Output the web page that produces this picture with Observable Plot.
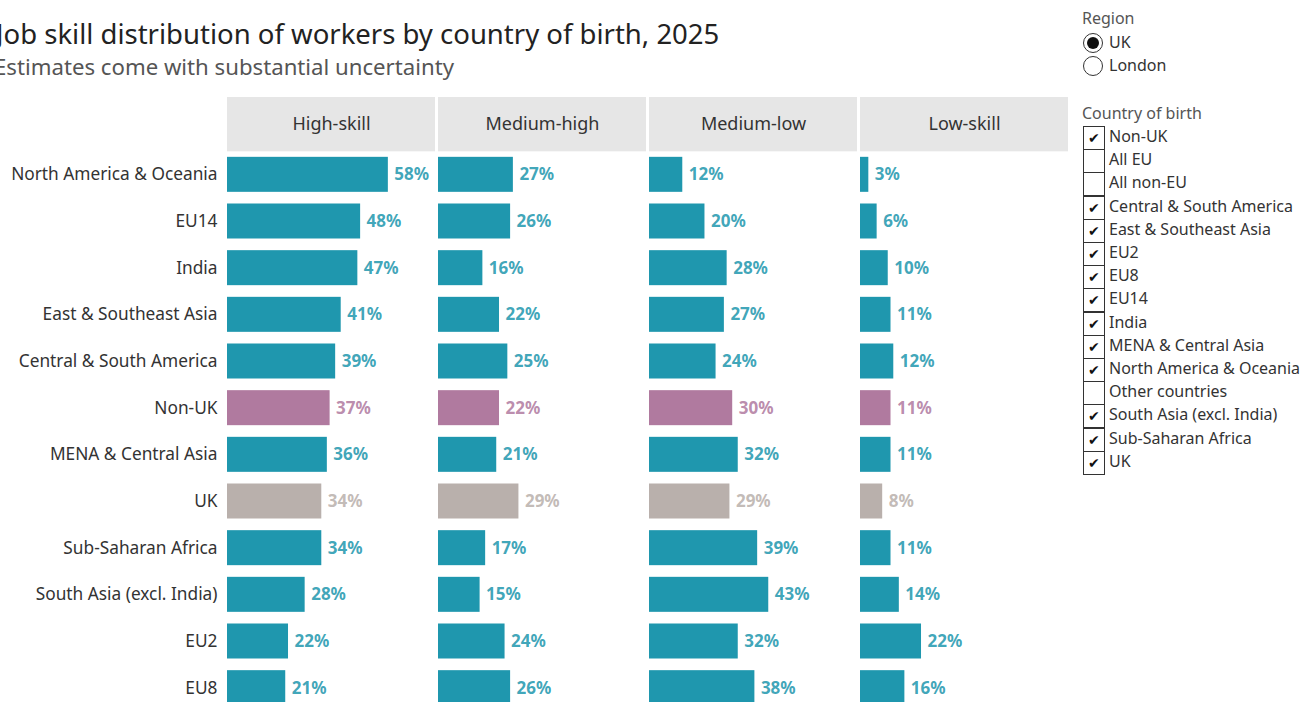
<!DOCTYPE html>
<html>
<head>
<meta charset="utf-8">
<script src="https://cdn.jsdelivr.net/npm/d3@7"></script>
<script src="https://cdn.jsdelivr.net/npm/@observablehq/plot@0.6"></script>
<style>
  html, body { margin: 0; padding: 0; background: #fff; overflow: hidden; width: 1301px; height: 702px; }
  body { position: relative; font-family: "Noto Sans", sans-serif; color: #333; }
  #title { position: absolute; left: -4px; top: 17px; font-size: 27.5px; color: #222; white-space: nowrap; line-height: 1.2; }
  #subtitle { position: absolute; left: -6px; top: 54px; font-size: 22.2px; color: #555; white-space: nowrap; line-height: 1.2; }
  #chart { position: absolute; left: 0; top: 90px; }
  #legend { position: absolute; left: 1082px; top: 0; font-size: 16px; color: #333; }
  .lg-title { position: absolute; left: 0; white-space: nowrap; color: #555; }
  .item { position: absolute; left: 0; white-space: nowrap; height: 23px; line-height: 23px; }
  .radio { position: absolute; left: 1px; top: 0; width: 20px; height: 20px; border: 1.5px solid #333; border-radius: 50%; box-sizing: border-box; background: #fff; }
  .radio.on::after { content: ""; position: absolute; left: 2.5px; top: 2.5px; width: 12px; height: 12px; border-radius: 50%; background: #111; }
  .box { position: absolute; left: 1px; top: 0; width: 22px; height: 24px; border: 1.5px solid #333; box-sizing: border-box; background: #fff; font-size: 14px; line-height: 21px; text-align: center; color: #111; }
  .lbl { position: absolute; left: 27px; top: 0; }
</style>
</head>
<body>
<div id="title">Job skill distribution of workers by country of birth, 2025</div>
<div id="subtitle">Estimates come with substantial uncertainty</div>
<div id="chart"></div>
<div id="legend"></div>
<script>
// ---- Data ----
const skills = ["High-skill", "Medium-high", "Medium-low", "Low-skill"];
const countries = [
  "North America & Oceania", "EU14", "India", "East & Southeast Asia",
  "Central & South America", "Non-UK", "MENA & Central Asia", "UK",
  "Sub-Saharan Africa", "South Asia (excl. India)", "EU2", "EU8"
];
const highSkill  = [58, 48, 47, 41, 39, 37, 36, 34, 34, 28, 22, 21];
const mediumHigh = [27, 26, 16, 22, 25, 22, 21, 29, 17, 15, 24, 26];
const mediumLow  = [12, 20, 28, 27, 24, 30, 32, 29, 39, 43, 32, 38];
const lowSkill   = [ 3,  6, 10, 11, 12, 11, 11,  8, 11, 14, 22, 16];
const seriesBySkill = [highSkill, mediumHigh, mediumLow, lowSkill];

const regionOptions = ["UK", "London"];
const regionSelected = "UK";
const countryOptions = [
  "Non-UK", "All EU", "All non-EU", "Central & South America", "East & Southeast Asia",
  "EU2", "EU8", "EU14", "India", "MENA & Central Asia", "North America & Oceania",
  "Other countries", "South Asia (excl. India)", "Sub-Saharan Africa", "UK"
];
const countryChecked = [true, false, false, true, true, true, true, true, true, true, true, false, true, true, true];

// ---- Table ----
const groupOf = c => c === "Non-UK" ? "Non-UK" : c === "UK" ? "UK" : "Country";
const table = countries.flatMap((c, i) =>
  skills.map((s, j) => ({country: c, skill: s, value: seriesBySkill[j][i], group: groupOf(c)}))
);

const marginTop = 61;
const step = 46.64;
const frameH = step * countries.length;
const height = Math.round(marginTop + frameH);

const chart = Plot.plot({
  width: 1075,
  height,
  marginTop,
  marginBottom: 0,
  marginLeft: 227,
  marginRight: 7,
  style: {fontFamily: "Noto Sans, sans-serif", fontSize: "17.3px", color: "#333", background: "transparent"},
  fx: {domain: skills, axis: null, paddingInner: 3 / 211, paddingOuter: 0, round: false},
  x: {domain: [0, 75], axis: null},
  y: {domain: countries, label: null, tickSize: 0, tickPadding: 10, paddingInner: 0.25, paddingOuter: 0.125, round: false},
  color: {domain: ["Country", "Non-UK", "UK"], range: ["#1f97ae", "#b07a9f", "#b9b0ac"]},
  marks: [
    Plot.rect(skills, {fx: d => d, fill: "#e6e6e6", insetTop: -54, insetBottom: frameH}),
    Plot.text(skills, {fx: d => d, text: d => d, frameAnchor: "top", lineAnchor: "middle", dy: -27, fontSize: 18, fill: "#333"}),
    Plot.barX(table, {fx: "skill", y: "country", x: "value", fill: "group"}),
    Plot.text(table, {
      fx: "skill", y: "country", x: "value", text: d => d.value + "%",
      textAnchor: "start", dx: 6, fill: "group", fillOpacity: 0.87,
      fontWeight: "bold", fontSize: 17
    })
  ]
});
document.getElementById("chart").appendChild(chart);

// ---- Legend (filter controls) ----
const lg = document.getElementById("legend");
const addTitle = (t, top) => {
  const d = document.createElement("div");
  d.className = "lg-title"; d.textContent = t; d.style.top = top + "px";
  lg.appendChild(d);
};
addTitle("Region", 7);
regionOptions.forEach((r, i) => {
  const it = document.createElement("div");
  it.className = "item"; it.style.top = (33 + i * 23.2) + "px";
  const c = document.createElement("div");
  c.className = "radio" + (r === regionSelected ? " on" : "");
  const l = document.createElement("div");
  l.className = "lbl"; l.textContent = r; l.style.top = "-2px";
  it.appendChild(c); it.appendChild(l); lg.appendChild(it);
});
addTitle("Country of birth", 102);
countryOptions.forEach((r, i) => {
  const it = document.createElement("div");
  it.className = "item"; it.style.top = (126 + i * 23.2) + "px";
  const b = document.createElement("div");
  b.className = "box"; b.textContent = countryChecked[i] ? "✔" : "";
  const l = document.createElement("div");
  l.className = "lbl"; l.textContent = r; l.style.top = "-1px";
  it.appendChild(b); it.appendChild(l); lg.appendChild(it);
});
</script>
</body>
</html>
